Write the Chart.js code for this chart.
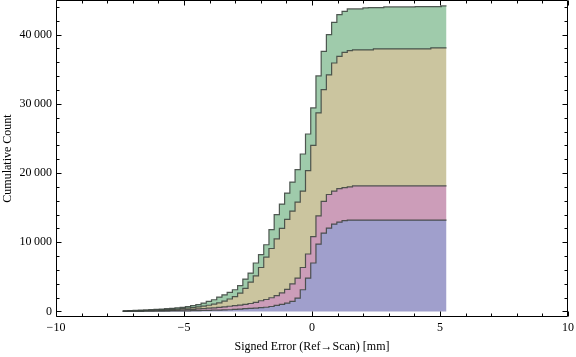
<!DOCTYPE html>
<html><head><meta charset="utf-8">
<script src="https://cdn.jsdelivr.net/npm/chart.js@4.4.0/dist/chart.umd.min.js"></script>
<style>html,body{margin:0;padding:0;background:#fff}#wrap{width:576px;height:357px}</style>
</head><body>
<div id="wrap"><canvas id="c" width="576" height="357"></canvas></div>
<script>
// Bin edges (mm)
const binEdges = [-7.394,-7.19,-6.986,-6.782,-6.578,-6.374,-6.17,-5.966,-5.762,-5.558,-5.354,-5.15,-4.946,-4.742,-4.538,-4.334,-4.13,-3.926,-3.722,-3.518,-3.314,-3.11,-2.906,-2.702,-2.498,-2.294,-2.09,-1.886,-1.682,-1.478,-1.274,-1.07,-0.866,-0.662,-0.458,-0.254,-0.05,0.154,0.358,0.562,0.766,0.97,1.174,1.378,1.582,1.786,1.99,2.194,2.398,2.602,2.806,3.01,3.214,3.418,3.622,3.826,4.03,4.234,4.438,4.642,4.846,5.05,5.254];

// Stacked cumulative counts (top boundary of each band), one value per bin
const blueCum = [10,15,20,25,30,35,40,50,55,65,75,85,95,110,125,140,160,180,200,225,250,290,340,400,440,470,560,610,720,870,1010,1210,1450,1930,3140,4830,7000,9740,11330,12050,12630,12920,13110,13200,13200,13200,13200,13200,13200,13200,13200,13200,13200,13200,13200,13200,13200,13200,13200,13200,13200,13200];
const pinkCum = [30,40,50,60,70,85,100,120,140,165,195,230,270,310,360,410,470,530,600,670,750,830,920,1020,1150,1320,1550,1730,1980,2280,2700,3200,4000,4830,6350,8300,10800,13800,15900,16900,17400,17750,17880,18000,18150,18150,18150,18150,18150,18150,18150,18150,18150,18150,18150,18150,18150,18150,18150,18150,18150,18150];
const oliveCum = [60,80,100,120,140,160,190,220,260,300,350,410,480,560,650,760,900,1060,1250,1480,1800,2150,2650,3350,4250,5150,6350,7850,9100,10500,12000,13300,14500,15800,17400,20340,24000,28680,32050,34170,35900,36860,37440,37680,37780,37780,37780,37780,37930,37930,37930,37930,37930,37930,37930,37930,37930,37930,37930,38070,38070,38070];
const greenCum = [90,130,160,190,220,260,300,350,400,460,530,600,700,850,1000,1210,1450,1690,2080,2410,2750,3140,3720,4680,5550,7000,8200,9640,11810,13980,15520,17110,18700,20480,22750,25640,29400,34030,37580,40000,41780,42890,43370,43710,43710,43710,43850,43900,43900,43900,44000,44000,44000,44000,44000,44000,44050,44050,44050,44050,44050,44150];

const xTickValues = [-10,-5,0,5,10];
const yTickValues = [0,10000,20000,30000,40000];
const xMinorTicks = [-9,-8,-7,-6,-4,-3,-2,-1,1,2,3,4,6,7,8,9];
const yMinorTicks = [2000,4000,6000,8000,12000,14000,16000,18000,22000,24000,26000,28000,32000,34000,36000,38000,42000,44000];
const xTitle = 'Signed Error (Ref\u2192Scan) [mm]';
const yTitle = 'Cumulative Count';

function toPoints(vals){
  const pts = vals.map((v,i)=>({x:binEdges[i], y:v}));
  pts.push({x:binEdges[vals.length], y:vals[vals.length-1]});
  return pts;
}

const lineCol = 'rgba(55,62,58,0.85)';
const FONT = {family:'"Liberation Serif","Times New Roman",serif', size:12};

const framePlugin = {
  id:'frame',
  afterDraw(chart){
    const {ctx, chartArea:a, scales:{x,y}} = chart;
    ctx.save();
    ctx.strokeStyle = '#000';
    ctx.lineWidth = 1;
    const L = Math.round(a.left)+0.5, R = Math.round(a.right)-0.5, T = Math.round(a.top)+0.5, B = Math.round(a.bottom)-0.5;
    ctx.beginPath();
    ctx.rect(L, T, R-L, B-T);
    const xt = (v,len)=>{ const p = Math.round(x.getPixelForValue(v))+0.5; ctx.moveTo(p,B); ctx.lineTo(p,B-len); ctx.moveTo(p,T); ctx.lineTo(p,T+len); };
    const yt = (v,len)=>{ const p = Math.round(y.getPixelForValue(v))+0.5; ctx.moveTo(L,p); ctx.lineTo(L+len,p); ctx.moveTo(R,p); ctx.lineTo(R-len,p); };
    xTickValues.forEach(v=>xt(v,5));
    xMinorTicks.forEach(v=>xt(v,3));
    yTickValues.forEach(v=>yt(v,5));
    yMinorTicks.forEach(v=>yt(v,3));
    ctx.stroke();
    ctx.restore();
  }
};

const mk = (label, vals, fillCol, fill) => ({
  label, data: toPoints(vals), stepped:'before', fill,
  backgroundColor: fillCol, borderColor: lineCol, borderWidth: 1.2,
  pointRadius: 0, tension: 0
});

new Chart(document.getElementById('c'), {
  type:'line',
  data:{ datasets:[
    mk('Band 1', blueCum, '#a09fcc', 'origin'),
    mk('Band 2', pinkCum, '#cc9db9', '-1'),
    mk('Band 3', oliveCum, '#cbc59f', '-1'),
    mk('Band 4', greenCum, '#9fcbab', '-1')
  ]},
  options:{
    responsive:false, animation:false, devicePixelRatio:1,
    layout:{padding:{left:0,right:8,top:0,bottom:0}},
    plugins:{legend:{display:false}, tooltip:{enabled:false}},
    scales:{
      x:{ type:'linear', min:-10, max:10,
        grid:{display:false, drawTicks:false}, border:{display:false},
        afterBuildTicks(s){ s.ticks = xTickValues.map(v=>({value:v})); },
        afterFit(s){ s.height = 40; s.paddingLeft = 0; s.paddingRight = 0; s.paddingTop = 0; s.paddingBottom = 0; },
        ticks:{ font:FONT, color:'#000', padding:4, maxRotation:0,
          callback:v=> String(v).replace('-', '\u2212') },
        title:{ display:true, text:xTitle, font:FONT, color:'#000', padding:{top:0,bottom:3} }
      },
      y:{ type:'linear', min:-800, max:45000,
        grid:{display:false, drawTicks:false}, border:{display:false},
        afterBuildTicks(s){ s.ticks = yTickValues.map(v=>({value:v})); },
        afterFit(s){ s.width = 56; s.paddingTop = 0; s.paddingBottom = 0; s.paddingLeft = 0; s.paddingRight = 0; },
        ticks:{ font:FONT, color:'#000', padding:4,
          callback:v=> v>=1000 ? Math.floor(v/1000)+'\u2009'+String(v%1000).padStart(3,'0') : String(v) },
        title:{ display:true, text:yTitle, font:FONT, color:'#000', padding:{top:1,bottom:0} }
      }
    }
  },
  plugins:[framePlugin]
});
</script>
</body></html>
